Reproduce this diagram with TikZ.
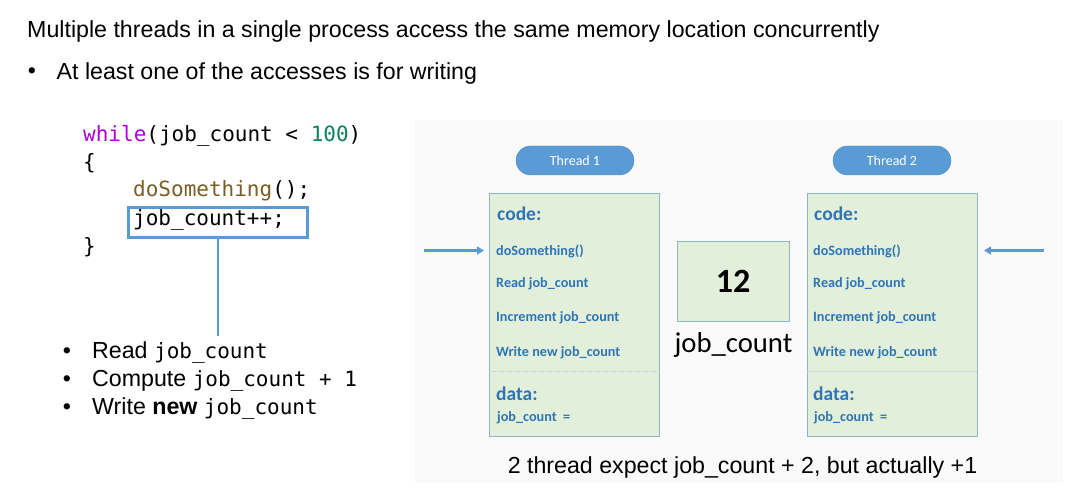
\documentclass[tikz,border=0pt]{standalone}
\usepackage{fontspec}
\setmainfont{Liberation Sans}
\setmonofont{DejaVu Sans Mono}
\newfontfamily\calfont{Carlito}
\usetikzlibrary{arrows.meta}
\definecolor{blueln}{HTML}{5B9BD5}
\definecolor{pilledge}{HTML}{4F8CC4}
\definecolor{panelbg}{HTML}{FAFAFB}
\definecolor{greenbg}{HTML}{E2EFDA}
\definecolor{boxedge}{HTML}{8FB4C4}
\definecolor{codeblue}{HTML}{2E75B6}
\definecolor{kw}{HTML}{AF00DB}
\definecolor{num}{HTML}{098658}
\definecolor{fn}{HTML}{795E26}
\newcommand{\mcode}[1]{{\fontsize{21}{24}\selectfont\ttfamily #1}}
\tikzset{
  x=1pt,y=-1pt,
  txt/.style={inner sep=0pt,anchor=base west,text=black},
  body/.style={txt,font=\fontsize{23.2}{26}\selectfont},
  lst/.style={txt,font=\fontsize{23.2}{26}\selectfont},
  codeline/.style={txt,font=\fontsize{21}{24}\selectfont\ttfamily},
  blue1/.style={txt,text=codeblue,font=\calfont\bfseries\fontsize{14.2}{16}\selectfont},
  blue2/.style={txt,text=codeblue,font=\calfont\bfseries\fontsize{19.5}{22}\selectfont},
  pill/.style={draw=pilledge,fill=blueln,rounded corners=14.5pt,minimum width=118pt,minimum height=29pt,inner sep=0pt,text=white,font=\calfont\fontsize{14}{16}\selectfont},
  tbox/.style={draw=boxedge,fill=greenbg,line width=0.9pt,minimum width=170pt,minimum height=243pt,inner sep=0pt},
  ptr/.style={draw=blueln,line width=2.5pt,-{Triangle[length=7pt,width=8pt]}},
}
\begin{document}
\begin{tikzpicture}
\useasboundingbox (0,0) rectangle (1088,489);
\fill[white] (0,0) rectangle (1088,489);
\fill[panelbg] (415,120) rectangle (1063,483);
\node[body] (t1) at (27,37.7) {Multiple threads in a single process access the same memory location concurrently};
\node[body,anchor=base] (b0) at (32,78.7) {•};
\node[body] (t2) at (56.5,79.7) {At least one of the accesses is for writing};
\node[codeline] (c1) at (83,142) {\textcolor{kw}{while}(job\_count < \textcolor{num}{100})};
\node[codeline] (c2) at (83,170) {\{};
\node[codeline] (c3) at (133,197) {\textcolor{fn}{doSomething}();};
\node[codeline] (c4) at (133,226) {job\_count++;};
\node[codeline] (c5) at (83,254) {\}};
\node[draw=blueln,line width=2.4pt,minimum width=179pt,minimum height=30pt,inner sep=0pt] (cb) at (218,222.5) {};
\coordinate (cl) at (218,336);
\draw[blueln,line width=1.8pt] (cb.south) -- (cl);
\node[lst,anchor=base] (b1) at (67,358.5) {•};
\node[lst,anchor=base] (b2) at (67,386.5) {•};
\node[lst,anchor=base] (b3) at (67,414.5) {•};
\node[lst] (l1) at (92,358.5) {Read \mcode{job\_count}};
\node[lst] (l2) at (92,386.5) {Compute \mcode{job\_count + 1}};
\node[lst] (l3) at (92,414.5) {Write \textbf{new} \mcode{job\_count}};
\node[pill] (p1) at (575,160.5) {Thread 1};
\node[pill] (p2) at (892,160.5) {Thread 2};
\node[tbox] (a) at (574.5,314.5) {};
\node[tbox] (b) at (892,314.5) {};
\draw[boxedge!60,densely dotted,line width=0.6pt] (a.west |- 0,371) coordinate (ad) -- (a.east |- 0,371);
\draw[boxedge!60,densely dotted,line width=0.6pt] (b.west |- 0,371) coordinate (bd) -- (b.east |- 0,371);
\foreach \n/\x in {a/497,b/814}{
  \node[blue2] (\n c) at (\x,220.5) {code:};
  \node[blue1] (\n 1) at (\x-1,256) {doSomething()};
  \node[blue1] (\n 2) at (\x-1,288) {Read job\_count};
  \node[blue1] (\n 3) at (\x-1,322) {Increment job\_count};
  \node[blue1] (\n 4) at (\x-1,356) {Write new job\_count};
  \node[blue2] (\n d) at (\x-1,400) {data:};
  \node[blue1] (\n 5) at (\x,421) {job\_count\ \ =};
}
\node[draw=boxedge,fill=greenbg,line width=0.9pt,minimum width=112pt,minimum height=80pt,inner sep=0pt,font=\calfont\bfseries\fontsize{34}{36}\selectfont] (m) at (733,281) {12};
\node[txt,anchor=base,font=\calfont\fontsize{28.7}{30}\selectfont] (ml) at (733.5,352.5) {job\_count};
\coordinate (s1) at (424,250.5);
\coordinate (e1) at (484,250.5);
\coordinate (s2) at (1044,250.5);
\coordinate (e2) at (984,250.5);
\draw[ptr] (s1) -- (e1);
\draw[ptr] (s2) -- (e2);
\node[txt,anchor=base,font=\fontsize{23.2}{26}\selectfont] (cap) at (742.5,473) {2 thread expect job\_count + 2, but actually +1};
\end{tikzpicture}
\end{document}
